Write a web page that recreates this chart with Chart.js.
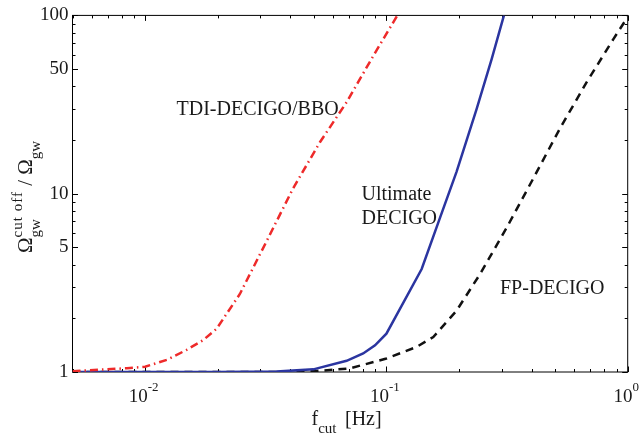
<!DOCTYPE html>
<html><head><meta charset="utf-8">
<script src="https://cdn.jsdelivr.net/npm/chart.js@4"></script>
<style>html,body{margin:0;padding:0;background:#fff}canvas{display:block}</style>
</head><body>
<canvas id="c" width="640" height="439"></canvas>
<script>
// ---- data ----
const seriesNames = ['TDI-DECIGO/BBO', 'Ultimate DECIGO', 'FP-DECIGO'];
const tdiX = [0.005, 0.0084, 0.01, 0.0123, 0.01485, 0.0174, 0.0198, 0.0247, 0.0319, 0.0411, 0.0531, 0.0684, 0.0883, 0.111];
const tdiY = [1.01, 1.05, 1.07, 1.17, 1.33, 1.51, 1.75, 2.74, 5.43, 10.75, 19.5, 32.6, 59.4, 100];
const ultX = [0.005, 0.02, 0.035, 0.0498, 0.0684, 0.0801, 0.0897, 0.1, 0.14, 0.1667, 0.1954, 0.2366, 0.273, 0.307];
const ultY = [1, 1, 1.005, 1.035, 1.156, 1.27, 1.41, 1.64, 3.78, 7.32, 13.3, 29.9, 56.9, 100];
const fpX = [0.005, 0.04, 0.05, 0.0706, 0.1, 0.1335, 0.1564, 0.1954, 0.2443, 0.315, 0.4065, 0.5236, 0.676, 0.871, 1.0];
const fpY = [1, 1, 1.01, 1.048, 1.19, 1.383, 1.572, 2.21, 3.54, 6.44, 12.2, 23.2, 42.2, 73.4, 98];
const xMajorTicks = [0.01, 0.1, 1];
const xTickExponents = ['-2', '-1', '0'];
const yTickLabels = [1, 5, 10, 50, 100];

const SERIF = '"Liberation Serif", "Times New Roman", serif';
const TXT = '#1a1a1a';

function pts(xs, ys) { return xs.map((x, i) => ({ x: x, y: ys[i] })); }
function logTicks(min, max) {
  const t = [];
  for (let e = -3; e <= 2; e++) for (let m = 1; m < 10; m++) {
    const v = +(m * Math.pow(10, e)).toPrecision(3);
    if (v >= min * 0.9999 && v <= max * 1.0001) t.push(v);
  }
  return t;
}

function drawRich(ctx, x, y, parts) {
  let cx = x;
  parts.forEach(group => {
    let adv = 0;
    group.forEach(s => {
      ctx.font = s.size + 'px ' + SERIF;
      ctx.letterSpacing = (s.ls || 0) + 'px';
      ctx.fillText(s.t, cx, y + (s.dy || 0));
      adv = Math.max(adv, ctx.measureText(s.t).width);
      ctx.letterSpacing = '0px';
    });
    cx += adv;
  });
  return cx - x;
}

const framePlugin = {
  id: 'frame',
  beforeDatasetsDraw(chart) {
    const { ctx, chartArea: a, scales: { x, y } } = chart;
    ctx.save();
    ctx.strokeStyle = '#000';
    ctx.lineWidth = 1;
    ctx.strokeRect(a.left, a.top, a.right - a.left, a.bottom - a.top);
    ctx.beginPath();
    x.ticks.forEach(t => {
      const px = Math.round(x.getPixelForValue(t.value)) + 0.5;
      const L = xMajorTicks.includes(t.value) ? 5.5 : 3;
      ctx.moveTo(px, a.bottom); ctx.lineTo(px, a.bottom - L);
      ctx.moveTo(px, a.top); ctx.lineTo(px, a.top + L);
    });
    y.ticks.forEach(t => {
      const py = Math.round(y.getPixelForValue(t.value)) + 0.5;
      const L = yTickLabels.includes(t.value) ? 5.5 : 3;
      ctx.moveTo(a.left, py); ctx.lineTo(a.left + L, py);
      ctx.moveTo(a.right, py); ctx.lineTo(a.right - L, py);
    });
    ctx.stroke();
    ctx.restore();
  },
  afterDraw(chart) {
    const { ctx, chartArea: a, scales: { x } } = chart;
    ctx.save();
    ctx.fillStyle = TXT;
    ctx.textBaseline = 'alphabetic';
    ctx.textAlign = 'left';
    // x tick labels 10^n
    xMajorTicks.forEach((v, i) => {
      const px = x.getPixelForValue(v);
      ctx.font = '19px ' + SERIF;
      const w1 = ctx.measureText('10').width;
      ctx.font = '13px ' + SERIF;
      const w2 = ctx.measureText(xTickExponents[i]).width;
      const sx = px - 1.5 - (w1 + w2) / 2;
      drawRich(ctx, sx, a.bottom + 30, [[{ t: '10', size: 19 }], [{ t: xTickExponents[i], size: 13, dy: -11 }]]);
    });
    // x axis title
    drawRich(ctx, 311.5, 425, [[{ t: 'f', size: 20 }], [{ t: 'cut', size: 15, dy: 7.5 }]]);
    ctx.font = '20px ' + SERIF;
    ctx.fillText('[Hz]', 345, 425);
    // y axis title (rotated)
    ctx.save();
    ctx.translate(32, 253);
    ctx.rotate(-Math.PI / 2);
    drawRich(ctx, 0, 0, [
      [{ t: 'Ω', size: 21 }],
      [{ t: 'gw', size: 15, dy: 8 }, { t: 'cut off', size: 15, dy: -10, ls: 1 }],
      [{ t: ' / ', size: 21 }],
      [{ t: 'Ω', size: 21 }],
      [{ t: 'gw', size: 15, dy: 8 }]
    ]);
    ctx.restore();
    // curve annotations
    ctx.font = '20px ' + SERIF;
    ctx.fillText(seriesNames[0], 176.5, 115);
    const ult = seriesNames[1].split(' ');
    ctx.fillText(ult[0], 361.5, 200);
    ctx.fillText(ult[1], 361.5, 224);
    ctx.fillText(seriesNames[2], 500, 294);
    ctx.restore();
  }
};

new Chart(document.getElementById('c').getContext('2d'), {
  type: 'scatter',
  data: {
    datasets: [
      { label: seriesNames[0], data: pts(tdiX, tdiY), showLine: true, borderColor: '#ee2a2a',
        borderWidth: 2.5, borderDash: [8, 4, 1.5, 4], pointRadius: 0, fill: false, tension: 0 },
      { label: seriesNames[1], data: pts(ultX, ultY), showLine: true, borderColor: '#2b35a0',
        borderWidth: 2.5, pointRadius: 0, fill: false, tension: 0 },
      { label: seriesNames[2], data: pts(fpX, fpY), showLine: true, borderColor: '#111111',
        borderWidth: 2.5, borderDash: [8, 6], pointRadius: 0, fill: false, tension: 0 }
    ]
  },
  options: {
    responsive: false,
    animation: false,
    devicePixelRatio: 1,
    layout: { padding: { left: 0, right: 12.3, top: 12.7, bottom: 0 } },
    plugins: { legend: { display: false }, tooltip: { enabled: false } },
    scales: {
      x: {
        type: 'logarithmic', min: 0.005, max: 1,
        grid: { display: false, drawTicks: false }, border: { display: false },
        ticks: { display: false },
        afterBuildTicks: s => { s.ticks = logTicks(0.005, 1).map(v => ({ value: v })); },
        afterFit: s => { s.height = 67; }
      },
      y: {
        type: 'logarithmic', min: 1, max: 100,
        grid: { display: false, drawTicks: false }, border: { display: false },
        ticks: {
          font: { family: SERIF, size: 19 }, color: TXT, padding: 4,
          autoSkip: false, maxRotation: 0,
          callback: v => yTickLabels.includes(v) ? String(v) : ''
        },
        afterBuildTicks: s => { s.ticks = logTicks(1, 100).map(v => ({ value: v })); },
        afterFit: s => { s.width = 72.5; }
      }
    }
  },
  plugins: [framePlugin]
});
</script>
</body></html>
